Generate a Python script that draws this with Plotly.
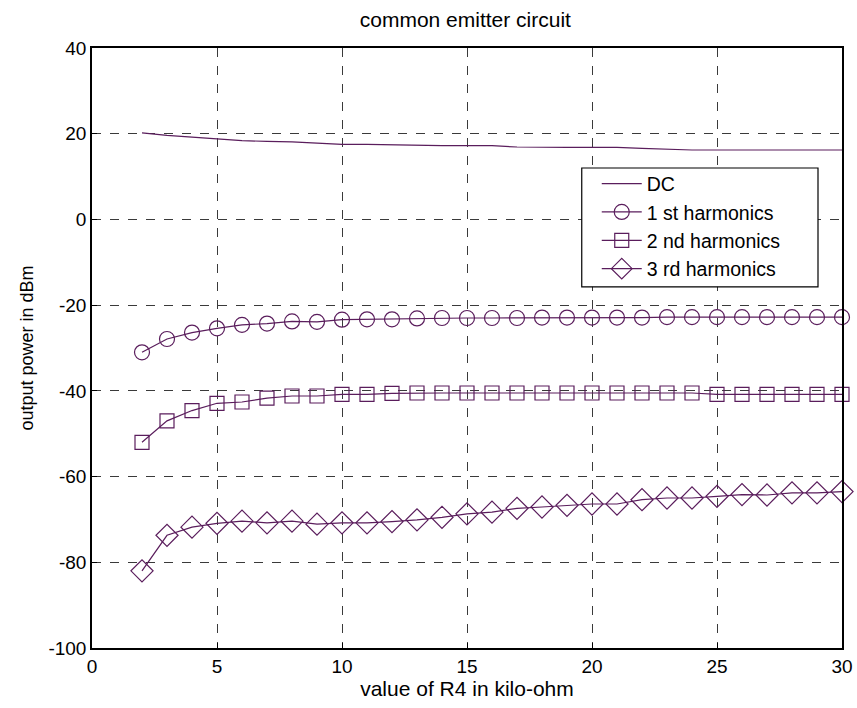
import plotly.graph_objects as go

x_vals = list(range(2, 31))

dc = [20.2, 19.6, 19.2, 18.8, 18.4, 18.2, 18.1, 17.8, 17.5, 17.5,
      17.4, 17.2, 17.2, 17.2, 17.2, 16.9, 16.8, 16.8, 16.8, 16.8,
      16.6, 16.4, 16.2, 16.2, 16.2, 16.2, 16.2, 16.2, 16.2]

h1 = [-31.0, -27.9, -26.4, -25.4, -24.6, -24.3, -23.8, -23.9, -23.4, -23.3,
      -23.3, -23.1, -23.0, -23.0, -23.0, -23.0, -22.9, -22.9, -22.9, -22.9,
      -22.9, -22.8, -22.8, -22.8, -22.8, -22.8, -22.8, -22.8, -22.8]

h2 = [-52.0, -47.0, -44.6, -42.9, -42.6, -41.7, -41.2, -41.2, -40.8, -40.8,
      -40.6, -40.5, -40.5, -40.5, -40.5, -40.5, -40.5, -40.5, -40.5, -40.5,
      -40.5, -40.5, -40.5, -40.8, -40.8, -40.8, -40.8, -40.8, -40.8]

h3 = [-82.0, -73.7, -71.8, -70.9, -70.4, -70.8, -70.4, -71.1, -70.8, -70.8,
      -70.5, -70.1, -69.5, -68.7, -68.3, -67.4, -67.1, -66.7, -66.4, -66.4,
      -65.4, -65.0, -65.0, -64.6, -64.2, -64.3, -63.8, -63.8, -63.5]

names = ["DC", "1 st harmonics", "2 nd harmonics", "3 rd harmonics"]
x_ticks = [0, 5, 10, 15, 20, 25, 30]
y_ticks = [40, 20, 0, -20, -40, -60, -80, -100]
y_tick_text = ["40", "20", "0", "-20", "-40", "-60", "-80", "-100"]

color = "#5a1d5c"
FONT = "Arial, Liberation Sans, sans-serif"

fig = go.Figure()
fig.add_trace(go.Scatter(x=x_vals, y=dc, mode="lines", name=names[0],
                         line=dict(color=color, width=1.2), cliponaxis=False))
fig.add_trace(go.Scatter(x=x_vals, y=h1, mode="lines+markers", name=names[1],
                         line=dict(color=color, width=1.2), cliponaxis=False,
                         marker=dict(symbol="circle-open", size=15,
                                     color=color, line=dict(width=1.2))))
fig.add_trace(go.Scatter(x=x_vals, y=h2, mode="lines+markers", name=names[2],
                         line=dict(color=color, width=1.2), cliponaxis=False,
                         marker=dict(symbol="square-open", size=14,
                                     color=color, line=dict(width=1.2))))
fig.add_trace(go.Scatter(x=x_vals, y=h3, mode="lines+markers", name=names[3],
                         line=dict(color=color, width=1.2), cliponaxis=False,
                         marker=dict(symbol="diamond-open", size=17,
                                     color=color, line=dict(width=1.2))))

axis_common = dict(showline=True, linecolor="black", linewidth=1.5, mirror=True,
                   ticks="inside", ticklen=5, tickcolor="black",
                   showgrid=True, gridcolor="#3a3a3a", griddash="dash", gridwidth=1,
                   zeroline=False, automargin=False,
                   tickfont=dict(size=19, color="black", family=FONT))

fig.update_xaxes(range=[0, 30], tickvals=x_ticks,
                 title=dict(text="value of R4 in kilo-ohm", standoff=4,
                            font=dict(size=21, color="black", family=FONT)),
                 **axis_common)
fig.update_yaxes(range=[-100, 40], tickvals=y_ticks, ticktext=y_tick_text,
                 title=dict(text="output power in dBm", standoff=10,
                            font=dict(size=18, color="black", family=FONT)),
                 **axis_common)

# legend frame (white box with black border)
fig.add_shape(type="rect", xref="paper", yref="paper",
              x0=0.653, x1=0.968, y0=0.602, y1=0.80,
              fillcolor="white", line=dict(color="black", width=1.2),
              layer="above")

fig.update_layout(
    width=857, height=708,
    margin=dict(l=92, r=15, t=48, b=60),
    paper_bgcolor="white", plot_bgcolor="white",
    font=dict(family=FONT, color="black"),
    title=dict(text="common emitter circuit", x=0.543, xanchor="center",
               y=0.972, yanchor="middle",
               font=dict(size=21, color="black", family=FONT)),
    legend=dict(x=0.673, y=0.806, xanchor="left", yanchor="top",
                bgcolor="rgba(0,0,0,0)", borderwidth=0,
                font=dict(size=19.5, color="black", family=FONT),
                tracegroupgap=0, itemwidth=40),
    showlegend=True,
)

fig.write_html("out.html")
